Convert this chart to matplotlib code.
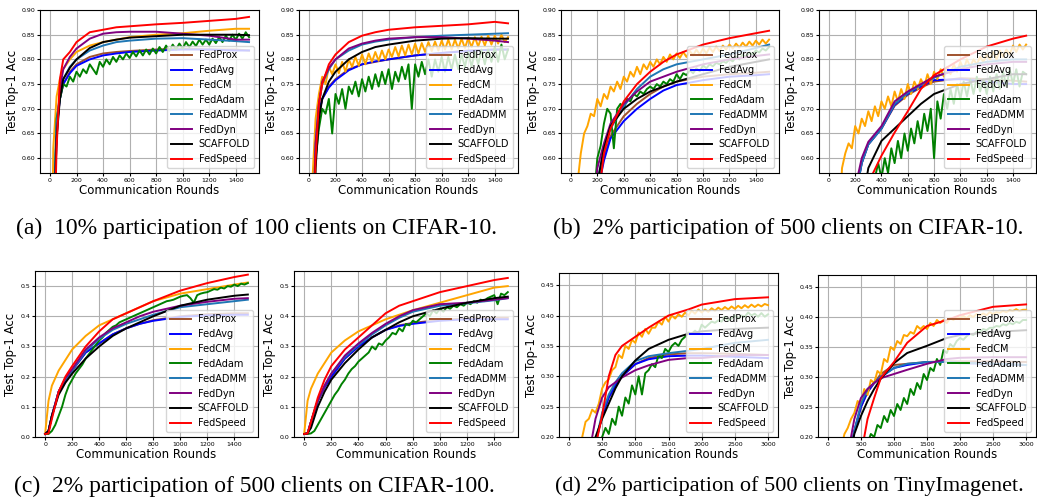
import matplotlib.pyplot as plt

methods = ['FedProx', 'FedAvg', 'FedCM', 'FedAdam', 'FedADMM', 'FedDyn', 'SCAFFOLD', 'FedSpeed']
colors = ['#a0522d', 'blue', 'orange', 'green', '#1f77b4', 'purple', 'black', 'red']

# sample rounds (smooth curves use a coarse grid, noisy curves a fine one)
a_x = [0, 25, 50, 75, 100, 150, 200, 300, 400, 500, 600, 800, 1000, 1200, 1400, 1500]
b_x = [0, 50, 100, 150, 200, 250, 300, 400, 500, 600, 700, 800, 1000, 1200, 1400, 1500]
c_x = [0, 25, 50, 100, 150, 200, 300, 400, 500, 600, 700, 800, 1000, 1200, 1400, 1500]
d_x = [0, 200, 300, 400, 500, 600, 700, 800, 1000, 1200, 1500, 1800, 2000, 2500, 3000]
r25 = [0, 25, 50, 75, 100, 125, 150, 175, 200, 225,
       250, 275, 300, 325, 350, 375, 400, 425, 450, 475,
       500, 525, 550, 575, 600, 625, 650, 675, 700, 725,
       750, 775, 800, 825, 850, 875, 900, 925, 950, 975,
       1000, 1025, 1050, 1075, 1100, 1125, 1150, 1175, 1200, 1225,
       1250, 1275, 1300, 1325, 1350, 1375, 1400, 1425, 1450, 1475,
       1500]
r50 = [0, 50, 100, 150, 200, 250, 300, 350, 400, 450,
       500, 550, 600, 650, 700, 750, 800, 850, 900, 950,
       1000, 1050, 1100, 1150, 1200, 1250, 1300, 1350, 1400, 1450,
       1500, 1550, 1600, 1650, 1700, 1750, 1800, 1850, 1900, 1950,
       2000, 2050, 2100, 2150, 2200, 2250, 2300, 2350, 2400, 2450,
       2500, 2550, 2600, 2650, 2700, 2750, 2800, 2850, 2900, 2950,
       3000]

# (a) left
al_prox  = [0.10, 0.45, 0.66, 0.72, 0.75, 0.775, 0.79, 0.805, 0.812, 0.815, 0.817, 0.82, 0.822, 0.82, 0.82, 0.818]
al_avg   = [0.10, 0.45, 0.66, 0.72, 0.75, 0.772, 0.787, 0.80, 0.808, 0.812, 0.815, 0.818, 0.82, 0.82, 0.818, 0.818]
al_cm    = [0.10, 0.62, 0.725, 0.76, 0.78, 0.80, 0.815, 0.828, 0.835, 0.84, 0.845, 0.85, 0.853, 0.858, 0.862, 0.862]
al_adam  = [0.10, 0.45, 0.68, 0.72, 0.75, 0.745, 0.765, 0.755, 0.775, 0.765,
            0.78, 0.772, 0.79, 0.78, 0.77, 0.795, 0.785, 0.80, 0.79, 0.805,
            0.795, 0.808, 0.80, 0.812, 0.803, 0.815, 0.806, 0.818, 0.808, 0.82,
            0.81, 0.822, 0.812, 0.825, 0.815, 0.828, 0.817, 0.83, 0.82, 0.832,
            0.822, 0.835, 0.825, 0.836, 0.827, 0.84, 0.83, 0.84, 0.83, 0.842,
            0.833, 0.845, 0.835, 0.848, 0.838, 0.85, 0.84, 0.852, 0.842, 0.855,
            0.845]
al_admm  = [0.10, 0.45, 0.67, 0.73, 0.76, 0.785, 0.80, 0.818, 0.828, 0.835, 0.838, 0.842, 0.843, 0.84, 0.837, 0.835]
al_dyn   = [0.10, 0.42, 0.64, 0.74, 0.78, 0.805, 0.822, 0.842, 0.852, 0.855, 0.856, 0.856, 0.852, 0.848, 0.84, 0.84]
al_scaf  = [0.10, 0.42, 0.64, 0.72, 0.76, 0.783, 0.80, 0.823, 0.835, 0.84, 0.844, 0.847, 0.85, 0.85, 0.85, 0.849]
al_speed = [0.10, 0.35, 0.62, 0.76, 0.80, 0.815, 0.835, 0.855, 0.86, 0.865, 0.867, 0.871, 0.874, 0.878, 0.882, 0.886]

# (a) right
ar_prox  = [0.10, 0.40, 0.62, 0.69, 0.72, 0.745, 0.76, 0.78, 0.79, 0.795, 0.80, 0.808, 0.813, 0.818, 0.82, 0.82]
ar_avg   = [0.10, 0.40, 0.62, 0.69, 0.72, 0.743, 0.758, 0.778, 0.79, 0.796, 0.80, 0.808, 0.813, 0.817, 0.82, 0.82]
ar_cm    = [0.10, 0.55, 0.68, 0.73, 0.765, 0.75, 0.785, 0.77, 0.79, 0.772,
            0.795, 0.775, 0.80, 0.785, 0.805, 0.787, 0.81, 0.79, 0.812, 0.795,
            0.815, 0.797, 0.818, 0.80, 0.82, 0.805, 0.825, 0.806, 0.828, 0.808,
            0.83, 0.81, 0.832, 0.812, 0.833, 0.815, 0.835, 0.817, 0.836, 0.818,
            0.838, 0.82, 0.84, 0.82, 0.84, 0.822, 0.842, 0.823, 0.843, 0.825,
            0.845, 0.826, 0.846, 0.828, 0.848, 0.83, 0.848, 0.832, 0.85, 0.835,
            0.845]
ar_adam  = [0.10, 0.35, 0.60, 0.66, 0.70, 0.69, 0.72, 0.65, 0.73, 0.71,
            0.74, 0.70, 0.745, 0.73, 0.755, 0.725, 0.76, 0.735, 0.765, 0.74,
            0.77, 0.745, 0.775, 0.75, 0.78, 0.74, 0.775, 0.755, 0.785, 0.76,
            0.79, 0.70, 0.79, 0.765, 0.795, 0.77, 0.80, 0.765, 0.80, 0.775,
            0.805, 0.775, 0.805, 0.78, 0.81, 0.78, 0.81, 0.785, 0.815, 0.785,
            0.815, 0.79, 0.82, 0.79, 0.82, 0.795, 0.825, 0.795, 0.83, 0.80,
            0.82]
ar_admm  = [0.10, 0.40, 0.63, 0.71, 0.75, 0.78, 0.80, 0.818, 0.83, 0.836, 0.84, 0.845, 0.848, 0.85, 0.852, 0.853]
ar_dyn   = [0.10, 0.40, 0.63, 0.71, 0.755, 0.783, 0.80, 0.822, 0.832, 0.838, 0.842, 0.845, 0.845, 0.842, 0.838, 0.835]
ar_scaf  = [0.10, 0.35, 0.58, 0.68, 0.72, 0.755, 0.775, 0.80, 0.815, 0.825, 0.83, 0.838, 0.842, 0.843, 0.842, 0.842]
ar_speed = [0.10, 0.35, 0.60, 0.71, 0.75, 0.79, 0.81, 0.835, 0.848, 0.855, 0.86, 0.865, 0.868, 0.871, 0.876, 0.873]

# (b) left
bl_prox  = [0.10, 0.20, 0.30, 0.40, 0.54, 0.60, 0.645, 0.685, 0.71, 0.73, 0.745, 0.755, 0.765, 0.77, 0.773, 0.775]
bl_avg   = [0.10, 0.20, 0.30, 0.40, 0.53, 0.595, 0.64, 0.675, 0.70, 0.72, 0.737, 0.748, 0.758, 0.765, 0.768, 0.77]
bl_cm    = [0.10, 0.40, 0.55, 0.61, 0.65, 0.665, 0.69, 0.685, 0.72, 0.705,
            0.73, 0.72, 0.745, 0.735, 0.755, 0.74, 0.765, 0.755, 0.775, 0.765,
            0.785, 0.77, 0.79, 0.78, 0.795, 0.785, 0.80, 0.79, 0.805, 0.795,
            0.81, 0.80, 0.812, 0.803, 0.815, 0.805, 0.817, 0.808, 0.82, 0.81,
            0.822, 0.812, 0.824, 0.815, 0.826, 0.817, 0.828, 0.82, 0.83, 0.822,
            0.832, 0.824, 0.834, 0.826, 0.836, 0.828, 0.838, 0.83, 0.84, 0.832,
            0.84]
bl_adam  = [0.10, 0.15, 0.20, 0.25, 0.30, 0.37, 0.45, 0.52, 0.60, 0.625,
            0.67, 0.70, 0.69, 0.62, 0.70, 0.71, 0.70, 0.72, 0.715, 0.73,
            0.725, 0.735, 0.73, 0.74, 0.745, 0.74, 0.75, 0.745, 0.755, 0.75,
            0.76, 0.755, 0.77, 0.76, 0.772, 0.768, 0.778, 0.772, 0.782, 0.776,
            0.788, 0.782, 0.79, 0.786, 0.793, 0.79, 0.796, 0.793, 0.80, 0.796,
            0.805, 0.80, 0.81, 0.805, 0.814, 0.81, 0.818, 0.814, 0.822, 0.818,
            0.825]
bl_admm  = [0.10, 0.20, 0.30, 0.42, 0.55, 0.62, 0.66, 0.705, 0.74, 0.765, 0.78, 0.79, 0.80, 0.81, 0.823, 0.83]
bl_dyn   = [0.10, 0.20, 0.32, 0.45, 0.58, 0.63, 0.67, 0.71, 0.735, 0.755, 0.765, 0.775, 0.79, 0.80, 0.807, 0.81]
bl_scaf  = [0.10, 0.20, 0.30, 0.42, 0.55, 0.62, 0.665, 0.70, 0.72, 0.735, 0.745, 0.755, 0.77, 0.785, 0.795, 0.80]
bl_speed = [0.10, 0.15, 0.22, 0.35, 0.50, 0.61, 0.66, 0.715, 0.75, 0.775, 0.795, 0.81, 0.83, 0.843, 0.853, 0.858]

# (b) right
br_prox  = [0.10, 0.15, 0.24, 0.38, 0.52, 0.59, 0.628, 0.66, 0.706, 0.728, 0.743, 0.755, 0.762, 0.76, 0.757, 0.755]
br_avg   = [0.10, 0.15, 0.24, 0.38, 0.52, 0.59, 0.628, 0.66, 0.708, 0.73, 0.745, 0.758, 0.76, 0.755, 0.75, 0.75]
br_cm    = [0.10, 0.20, 0.30, 0.45, 0.58, 0.61, 0.63, 0.62, 0.665, 0.65,
            0.68, 0.665, 0.695, 0.675, 0.705, 0.685, 0.715, 0.70, 0.725, 0.705,
            0.735, 0.715, 0.74, 0.72, 0.75, 0.73, 0.755, 0.74, 0.76, 0.745,
            0.77, 0.75, 0.775, 0.76, 0.78, 0.765, 0.785, 0.77, 0.79, 0.775,
            0.795, 0.78, 0.80, 0.785, 0.80, 0.79, 0.805, 0.795, 0.81, 0.80,
            0.815, 0.80, 0.818, 0.805, 0.82, 0.81, 0.828, 0.815, 0.83, 0.82,
            0.83]
br_adam  = [0.10, 0.12, 0.15, 0.18, 0.22, 0.26, 0.30, 0.34, 0.38, 0.42,
            0.45, 0.48, 0.50, 0.53, 0.56, 0.59, 0.56, 0.60, 0.57, 0.62,
            0.59, 0.635, 0.60, 0.65, 0.615, 0.66, 0.63, 0.675, 0.64, 0.69,
            0.655, 0.70, 0.60, 0.715, 0.68, 0.73, 0.70, 0.74, 0.71, 0.75,
            0.72, 0.755, 0.725, 0.76, 0.73, 0.765, 0.735, 0.76, 0.73, 0.765,
            0.735, 0.77, 0.74, 0.775, 0.745, 0.78, 0.75, 0.78, 0.745, 0.775,
            0.77]
br_admm  = [0.10, 0.15, 0.24, 0.38, 0.52, 0.59, 0.628, 0.66, 0.71, 0.732, 0.748, 0.763, 0.785, 0.795, 0.80, 0.80]
br_dyn   = [0.10, 0.15, 0.25, 0.40, 0.54, 0.60, 0.633, 0.665, 0.715, 0.735, 0.75, 0.765, 0.78, 0.79, 0.795, 0.795]
br_scaf  = [0.10, 0.13, 0.18, 0.28, 0.40, 0.50, 0.58, 0.635, 0.66, 0.685, 0.71, 0.73, 0.75, 0.76, 0.77, 0.77]
br_speed = [0.10, 0.11, 0.13, 0.18, 0.28, 0.40, 0.55, 0.605, 0.652, 0.695, 0.74, 0.768, 0.80, 0.826, 0.842, 0.848]

# (c) left
cl_prox  = [0.01, 0.02, 0.07, 0.15, 0.19, 0.22, 0.28, 0.31, 0.34, 0.36, 0.375, 0.387, 0.40, 0.407, 0.41, 0.41]
cl_avg   = [0.01, 0.02, 0.07, 0.15, 0.19, 0.22, 0.28, 0.31, 0.34, 0.36, 0.375, 0.385, 0.398, 0.403, 0.405, 0.405]
cl_cm    = [0.01, 0.12, 0.17, 0.22, 0.255, 0.29, 0.335, 0.37, 0.39, 0.41, 0.43, 0.45, 0.475, 0.49, 0.505, 0.512]
cl_adam  = [0.01, 0.01, 0.02, 0.04, 0.07, 0.10, 0.14, 0.17, 0.19, 0.21,
            0.225, 0.24, 0.26, 0.275, 0.29, 0.305, 0.32, 0.33, 0.345, 0.355,
            0.365, 0.37, 0.38, 0.385, 0.39, 0.395, 0.40, 0.405, 0.41, 0.415,
            0.42, 0.425, 0.43, 0.435, 0.44, 0.445, 0.45, 0.452, 0.455, 0.46,
            0.465, 0.468, 0.47, 0.46, 0.445, 0.47, 0.475, 0.478, 0.48, 0.485,
            0.49, 0.488, 0.495, 0.492, 0.50, 0.498, 0.505, 0.50, 0.508, 0.505,
            0.51]
cl_admm  = [0.01, 0.02, 0.07, 0.15, 0.19, 0.22, 0.285, 0.325, 0.355, 0.375, 0.39, 0.405, 0.43, 0.44, 0.45, 0.455]
cl_dyn   = [0.01, 0.02, 0.07, 0.15, 0.195, 0.225, 0.29, 0.33, 0.36, 0.38, 0.40, 0.415, 0.435, 0.448, 0.458, 0.46]
cl_scaf  = [0.01, 0.02, 0.07, 0.14, 0.18, 0.21, 0.26, 0.30, 0.335, 0.36, 0.38, 0.40, 0.435, 0.455, 0.468, 0.472]
cl_speed = [0.01, 0.012, 0.06, 0.15, 0.20, 0.235, 0.30, 0.35, 0.39, 0.41, 0.43, 0.45, 0.485, 0.51, 0.53, 0.538]

# (c) right
cr_prox  = [0.01, 0.012, 0.05, 0.12, 0.165, 0.20, 0.26, 0.30, 0.33, 0.355, 0.37, 0.378, 0.388, 0.393, 0.395, 0.395]
cr_avg   = [0.01, 0.012, 0.05, 0.12, 0.165, 0.20, 0.26, 0.30, 0.33, 0.355, 0.368, 0.375, 0.385, 0.39, 0.39, 0.39]
cr_cm    = [0.01, 0.12, 0.16, 0.21, 0.245, 0.28, 0.32, 0.35, 0.37, 0.39, 0.405, 0.42, 0.445, 0.47, 0.495, 0.50]
cr_adam  = [0.01, 0.01, 0.012, 0.02, 0.04, 0.06, 0.08, 0.10, 0.12, 0.14,
            0.155, 0.175, 0.19, 0.21, 0.225, 0.235, 0.25, 0.26, 0.27, 0.28,
            0.30, 0.29, 0.31, 0.305, 0.32, 0.33, 0.345, 0.34, 0.36, 0.35,
            0.375, 0.37, 0.385, 0.38, 0.39, 0.40, 0.41, 0.40, 0.42, 0.41,
            0.425, 0.415, 0.43, 0.425, 0.435, 0.43, 0.44, 0.435, 0.445, 0.44,
            0.45, 0.445, 0.455, 0.45, 0.46, 0.465, 0.47, 0.44, 0.475, 0.47,
            0.48]
cr_admm  = [0.01, 0.012, 0.05, 0.12, 0.17, 0.21, 0.265, 0.305, 0.34, 0.37, 0.395, 0.415, 0.435, 0.443, 0.453, 0.46]
cr_dyn   = [0.01, 0.012, 0.05, 0.12, 0.17, 0.21, 0.27, 0.31, 0.345, 0.375, 0.40, 0.42, 0.44, 0.445, 0.455, 0.46]
cr_scaf  = [0.01, 0.012, 0.03, 0.10, 0.15, 0.19, 0.245, 0.29, 0.33, 0.355, 0.38, 0.40, 0.425, 0.445, 0.46, 0.465]
cr_speed = [0.01, 0.012, 0.05, 0.13, 0.19, 0.235, 0.29, 0.33, 0.37, 0.41, 0.435, 0.45, 0.48, 0.50, 0.52, 0.527]

# (d) left
dl_prox  = [0.05, 0.10, 0.15, 0.19, 0.235, 0.265, 0.285, 0.30, 0.32, 0.33, 0.336, 0.338, 0.338, 0.337, 0.335]
dl_avg   = [0.05, 0.10, 0.15, 0.19, 0.235, 0.265, 0.285, 0.30, 0.32, 0.328, 0.333, 0.334, 0.334, 0.332, 0.33]
dl_cm    = [0.05, 0.08, 0.12, 0.16, 0.20, 0.225, 0.23, 0.245, 0.24, 0.255,
            0.28, 0.29, 0.295, 0.31, 0.315, 0.335, 0.33, 0.35, 0.345, 0.36,
            0.355, 0.372, 0.365, 0.378, 0.37, 0.38, 0.38, 0.39, 0.385, 0.398,
            0.39, 0.40, 0.395, 0.402, 0.398, 0.405, 0.40, 0.408, 0.403, 0.41,
            0.405, 0.41, 0.406, 0.412, 0.408, 0.413, 0.409, 0.414, 0.41, 0.415,
            0.411, 0.416, 0.412, 0.417, 0.413, 0.418, 0.414, 0.418, 0.415, 0.419,
            0.417]
dl_adam  = [0.05, 0.06, 0.07, 0.08, 0.09, 0.10, 0.11, 0.13, 0.15, 0.17,
            0.20, 0.215, 0.205, 0.23, 0.22, 0.25, 0.235, 0.265, 0.255, 0.285,
            0.27, 0.30, 0.27, 0.305, 0.31, 0.32, 0.315, 0.335, 0.33, 0.345,
            0.34, 0.35, 0.355, 0.35, 0.36, 0.365, 0.372, 0.37, 0.375, 0.37,
            0.385, 0.38, 0.385, 0.39, 0.388, 0.392, 0.39, 0.398, 0.392, 0.395,
            0.40, 0.395, 0.40, 0.398, 0.405, 0.40, 0.403, 0.398, 0.404, 0.398,
            0.402]
dl_admm  = [0.05, 0.10, 0.15, 0.19, 0.24, 0.27, 0.29, 0.305, 0.325, 0.333, 0.338, 0.342, 0.345, 0.355, 0.36]
dl_dyn   = [0.05, 0.12, 0.17, 0.23, 0.265, 0.282, 0.29, 0.298, 0.31, 0.318, 0.327, 0.33, 0.33, 0.335, 0.335]
dl_scaf  = [0.05, 0.10, 0.15, 0.20, 0.23, 0.255, 0.28, 0.30, 0.326, 0.345, 0.36, 0.37, 0.374, 0.378, 0.38]
dl_speed = [0.05, 0.10, 0.15, 0.185, 0.235, 0.30, 0.335, 0.35, 0.365, 0.38, 0.40, 0.41, 0.418, 0.427, 0.43]

# (d) right
dr_prox  = [0.05, 0.10, 0.15, 0.21, 0.25, 0.275, 0.29, 0.305, 0.32, 0.322, 0.325, 0.326, 0.326, 0.326, 0.325]
dr_avg   = [0.05, 0.10, 0.15, 0.21, 0.25, 0.275, 0.29, 0.30, 0.315, 0.32, 0.325, 0.325, 0.323, 0.322, 0.32]
dr_cm    = [0.05, 0.08, 0.11, 0.15, 0.18, 0.205, 0.215, 0.23, 0.24, 0.26,
            0.255, 0.28, 0.27, 0.295, 0.29, 0.31, 0.305, 0.33, 0.325, 0.35,
            0.345, 0.36, 0.355, 0.37, 0.368, 0.375, 0.372, 0.385, 0.38, 0.385,
            0.38, 0.39, 0.385, 0.395, 0.39, 0.395, 0.39, 0.398, 0.395, 0.40,
            0.398, 0.402, 0.398, 0.403, 0.40, 0.405, 0.402, 0.406, 0.403, 0.408,
            0.405, 0.408, 0.407, 0.41, 0.408, 0.411, 0.41, 0.413, 0.41, 0.412,
            0.412]
dr_adam  = [0.05, 0.06, 0.07, 0.08, 0.09, 0.10, 0.11, 0.12, 0.13, 0.145,
            0.16, 0.175, 0.19, 0.205, 0.20, 0.22, 0.215, 0.235, 0.225, 0.245,
            0.235, 0.255, 0.245, 0.265, 0.255, 0.28, 0.27, 0.29, 0.28, 0.305,
            0.295, 0.315, 0.31, 0.33, 0.32, 0.345, 0.34, 0.355, 0.35, 0.36,
            0.365, 0.362, 0.368, 0.372, 0.37, 0.375, 0.375, 0.38, 0.378, 0.382,
            0.382, 0.385, 0.384, 0.388, 0.386, 0.39, 0.388, 0.392, 0.39, 0.395,
            0.395]
dr_admm  = [0.05, 0.10, 0.15, 0.21, 0.255, 0.28, 0.29, 0.30, 0.315, 0.322, 0.325, 0.325, 0.324, 0.322, 0.32]
dr_dyn   = [0.05, 0.12, 0.17, 0.23, 0.265, 0.28, 0.29, 0.298, 0.305, 0.312, 0.322, 0.33, 0.332, 0.333, 0.333]
dr_scaf  = [0.05, 0.10, 0.15, 0.205, 0.235, 0.26, 0.28, 0.297, 0.323, 0.34, 0.352, 0.365, 0.37, 0.375, 0.378]
dr_speed = [0.05, 0.08, 0.10, 0.13, 0.17, 0.23, 0.265, 0.298, 0.325, 0.357, 0.385, 0.395, 0.403, 0.417, 0.421]

W, H = 1037, 500
fig = plt.figure(figsize=(W / 100, H / 100), dpi=100)

def px_box(l, r, t, b):
    return [l / W, 1 - b / H, (r - l) / W, (b - t) / H]

yt_ab = [0.60, 0.65, 0.70, 0.75, 0.80, 0.85, 0.90]
yt_c = [0.0, 0.1, 0.2, 0.3, 0.4, 0.5]
yt_d = [0.20, 0.25, 0.30, 0.35, 0.40, 0.45]
xt_15 = [0, 200, 400, 600, 800, 1000, 1200, 1400]
xt_30 = [0, 500, 1000, 1500, 2000, 2500, 3000]

panels = [
    (px_box(40, 259, 10, 173), (0.57, 0.90), yt_ab, xt_15, (-75, 1575),
     [(a_x, al_prox), (a_x, al_avg), (a_x, al_cm), (r25, al_adam),
      (a_x, al_admm), (a_x, al_dyn), (a_x, al_scaf), (a_x, al_speed)]),
    (px_box(299, 518, 10, 173), (0.57, 0.90), yt_ab, xt_15, (-75, 1575),
     [(a_x, ar_prox), (a_x, ar_avg), (r25, ar_cm), (r25, ar_adam),
      (a_x, ar_admm), (a_x, ar_dyn), (a_x, ar_scaf), (a_x, ar_speed)]),
    (px_box(561, 779, 10, 173), (0.57, 0.90), yt_ab, xt_15, (-75, 1575),
     [(b_x, bl_prox), (b_x, bl_avg), (r25, bl_cm), (r25, bl_adam),
      (b_x, bl_admm), (b_x, bl_dyn), (b_x, bl_scaf), (b_x, bl_speed)]),
    (px_box(819, 1036, 10, 173), (0.57, 0.90), yt_ab, xt_15, (-75, 1575),
     [(b_x, br_prox), (b_x, br_avg), (r25, br_cm), (r25, br_adam),
      (b_x, br_admm), (b_x, br_dyn), (b_x, br_scaf), (b_x, br_speed)]),
    (px_box(35, 258, 271, 437), (0.0, 0.55), yt_c, xt_15, (-75, 1575),
     [(c_x, cl_prox), (c_x, cl_avg), (c_x, cl_cm), (r25, cl_adam),
      (c_x, cl_admm), (c_x, cl_dyn), (c_x, cl_scaf), (c_x, cl_speed)]),
    (px_box(294, 518, 271, 437), (0.0, 0.55), yt_c, xt_15, (-75, 1575),
     [(c_x, cr_prox), (c_x, cr_avg), (c_x, cr_cm), (r25, cr_adam),
      (c_x, cr_admm), (c_x, cr_dyn), (c_x, cr_scaf), (c_x, cr_speed)]),
    (px_box(559, 778, 273, 437), (0.20, 0.47), yt_d, xt_30, (-150, 3150),
     [(d_x, dl_prox), (d_x, dl_avg), (r50, dl_cm), (r50, dl_adam),
      (d_x, dl_admm), (d_x, dl_dyn), (d_x, dl_scaf), (d_x, dl_speed)]),
    (px_box(818, 1036, 275, 437), (0.20, 0.47), yt_d, xt_30, (-150, 3150),
     [(d_x, dr_prox), (d_x, dr_avg), (r50, dr_cm), (r50, dr_adam),
      (d_x, dr_admm), (d_x, dr_dyn), (d_x, dr_scaf), (d_x, dr_speed)]),
]

for box, ylim, yt, xt, xlim, curves in panels:
    ax = fig.add_axes(box)
    for (xs, ys), name, c in zip(curves, methods, colors):
        ax.plot(xs, ys, color=c, lw=1.4, label=name)
    ax.set_xlim(*xlim)
    ax.set_ylim(*ylim)
    ax.set_yticks(yt)
    ax.set_xticks(xt)
    ax.grid(True)
    ax.tick_params(labelsize=4.5, length=2, pad=1.5)
    ax.set_xlabel('Communication Rounds', fontsize=8.5, labelpad=1)
    ax.set_ylabel('Test Top-1 Acc', fontsize=8.5, labelpad=2)
    ax.legend(loc='lower right', fontsize=7, borderaxespad=0.5,
              labelspacing=0.5, handlelength=2.2, handletextpad=0.7,
              borderpad=0.4)

captions = [
    (257, 228, 17, '(a)  10% participation of 100 clients on CIFAR-10.'),
    (788, 228, 17, '(b)  2% participation of 500 clients on CIFAR-10.'),
    (254, 486, 17, '(c)  2% participation of 500 clients on CIFAR-100.'),
    (789, 486, 16, '(d) 2% participation of 500 clients on TinyImagenet.'),
]
for cx, cy, fs, txt in captions:
    fig.text(cx / W, 1 - cy / H, txt, ha='center', va='center',
             family='Liberation Serif', fontsize=fs)

fig.savefig('out.png', dpi=100)
